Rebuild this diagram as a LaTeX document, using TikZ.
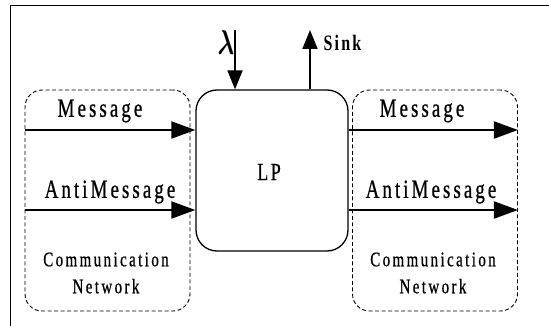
\documentclass[tikz,border=0pt]{standalone}
\usepackage{fontspec}
\setmainfont{Liberation Serif}
\usepackage{graphicx}
\usepackage{tikz}
\usetikzlibrary{arrows.meta,positioning,calc}
\newcommand{\tallt}[1]{\scalebox{1}[1.38]{#1}}

\begin{document}
\begin{tikzpicture}[
    x=1pt, y=-1pt,
    netbox/.style={rectangle, draw, line width=0.9pt, dash pattern=on 4pt off 2.5pt,
                   rounded corners=17pt, minimum width=165pt, minimum height=221pt},
    lpbox/.style={rectangle, draw, line width=1.3pt, rounded corners=21pt,
                  minimum width=152pt, minimum height=161pt},
    arrow/.style={-{Triangle[length=24pt, width=17pt]}, line width=2pt},
    lbl/.style={font=\fontsize{19}{21}\selectfont\addfontfeature{LetterSpace=16,FakeBold=0.8}},
    netlbl/.style={font=\fontsize{15}{27}\selectfont\addfontfeature{LetterSpace=16,FakeBold=0.8},
                   align=center}
]
\useasboundingbox (0,0) rectangle (549,326);

% frame
\draw[line width=0.9pt] (10,326) -- (10,5) -- (549,5);

% boxes
\node[netbox] (netL) at (107.5,200.5) {};
\node[lpbox] (lp) at (272,170.5) {};
\node[netbox] (netR) at (435,200.5) {};
\node[font=\fontsize{18}{20}\selectfont\addfontfeature{LetterSpace=14,FakeBold=0.8}] (lpname) at (269,172) {\tallt{LP}};

% message flow
\coordinate (msgL) at (netL.west |- 0,130);
\coordinate (antiL) at (netL.west |- 0,210);
\coordinate (msgR) at (netR.east |- 0,130);
\coordinate (antiR) at (netR.east |- 0,210);
\draw[arrow] (msgL) -- (lp.west |- msgL);
\draw[arrow] (antiL) -- (lp.west |- antiL);
\draw[arrow] (lp.east |- msgR) -- (msgR);
\draw[arrow] (lp.east |- antiR) -- (antiR);

\node[lbl] (msgLtxt) at (100,111) {\tallt{Message}};
\node[lbl] (antiLtxt) at (110,192) {\tallt{AntiMessage}};
\node[lbl] (msgRtxt) at (422,111) {\tallt{Message}};
\node[lbl] (antiRtxt) at (431,192) {\tallt{AntiMessage}};

\node[netlbl] (commL) at (106,273) {\tallt{Communication}\\\tallt{Network}};
\node[netlbl] (commR) at (433,273) {\tallt{Communication}\\\tallt{Network}};

% arrival and sink
\coordinate (lamtop) at (235,30);
\coordinate (sinktop) at (310,30);
\draw[arrow, -{Triangle[length=19pt, width=15pt]}] (lamtop) -- (lp.north -| lamtop);
\draw[arrow, -{Triangle[length=19pt, width=15pt]}] (lp.north -| sinktop) -- (sinktop);
\node[font=\fontsize{24}{26}\selectfont\boldmath] (lam) at (226,43) {\tallt{$\lambda$}};
\node[font=\fontsize{16}{18}\selectfont\bfseries\addfontfeature{LetterSpace=14}, anchor=west] (sink) at (320,43) {\tallt{Sink}};

\end{tikzpicture}
\end{document}
